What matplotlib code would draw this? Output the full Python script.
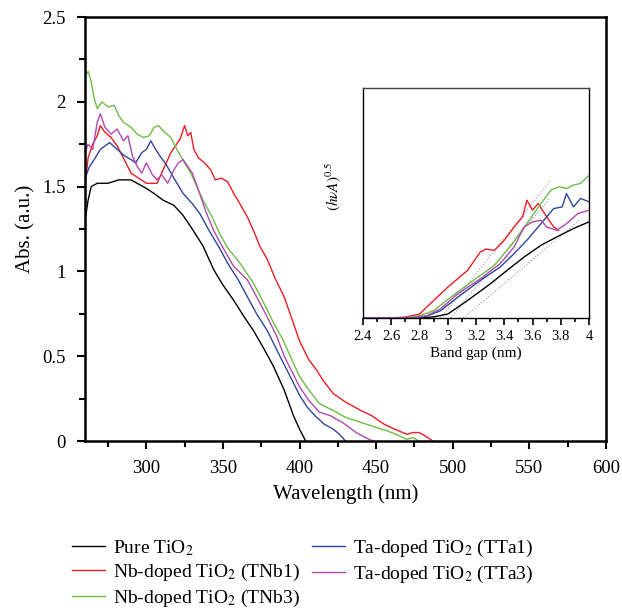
import matplotlib
matplotlib.use('Agg')
import matplotlib.pyplot as plt
from matplotlib.ticker import MultipleLocator, FormatStrFormatter

plt.rcParams['font.family'] = ['Liberation Serif', 'DejaVu Serif']
plt.rcParams['mathtext.fontset'] = 'stix'

# main plot: absorbance vs wavelength (nm)
pure_wl = [260, 262, 264, 268, 275, 282, 290, 296, 300, 305, 311, 318, 324, 330, 337, 344, 350, 357, 364, 370,
           377, 383, 390, 396, 400, 404]
pure_abs = [1.30, 1.42, 1.50, 1.52, 1.52, 1.54, 1.54, 1.51, 1.49, 1.46, 1.42, 1.39, 1.33, 1.25, 1.15, 1.01, 0.92,
            0.83, 0.73, 0.65, 0.54, 0.44, 0.30, 0.15, 0.07, 0.0]

tnb1_wl = [260, 262, 265, 268, 270, 273, 277, 281, 285, 290, 295, 300, 307, 311, 316, 319, 322, 325, 327, 329, 331,
           334, 338, 342, 345, 349, 353, 357, 361, 366, 370, 374, 379, 384, 390, 395, 400, 406, 411, 416, 422, 430,
           440, 447, 455, 462, 470, 474, 478, 482, 487]
tnb1_abs = [1.50, 1.67, 1.75, 1.80, 1.86, 1.82, 1.79, 1.74, 1.67, 1.58, 1.55, 1.52, 1.52, 1.60, 1.70, 1.74, 1.78,
            1.86, 1.80, 1.82, 1.72, 1.67, 1.64, 1.60, 1.54, 1.55, 1.53, 1.46, 1.40, 1.32, 1.24, 1.15, 1.07, 0.96,
            0.85, 0.72, 0.59, 0.48, 0.42, 0.35, 0.28, 0.23, 0.18, 0.15, 0.10, 0.07, 0.04, 0.05, 0.05, 0.03, 0.0]

tnb3_wl = [260, 262, 264, 266, 268, 271, 275, 279, 282, 285, 290, 294, 298, 302, 305, 308, 312, 316, 320, 325, 329,
           333, 337, 343, 348, 353, 361, 370, 378, 384, 389, 395, 400, 407, 413, 422, 430, 440, 450, 457, 463, 470,
           474, 478]
tnb3_abs = [2.15, 2.18, 2.12, 2.02, 1.96, 2.00, 1.97, 1.98, 1.92, 1.88, 1.85, 1.81, 1.79, 1.80, 1.85, 1.86, 1.82,
            1.79, 1.72, 1.64, 1.58, 1.50, 1.42, 1.32, 1.22, 1.14, 1.05, 0.93, 0.79, 0.68, 0.60, 0.48, 0.38, 0.29,
            0.22, 0.18, 0.14, 0.11, 0.08, 0.06, 0.04, 0.01, 0.02, 0.0]

tta1_wl = [260, 263, 266, 270, 276, 281, 286, 290, 293, 297, 300, 303, 306, 309, 313, 318, 324, 330, 335, 341, 347,
           353, 360, 366, 372, 379, 385, 390, 395, 400, 405, 410, 416, 422, 426, 430]
tta1_abs = [1.55, 1.62, 1.66, 1.72, 1.76, 1.72, 1.68, 1.66, 1.64, 1.70, 1.72, 1.77, 1.72, 1.68, 1.63, 1.55, 1.46,
            1.40, 1.34, 1.24, 1.15, 1.05, 0.95, 0.85, 0.75, 0.65, 0.54, 0.45, 0.36, 0.27, 0.20, 0.15, 0.10, 0.07,
            0.04, 0.0]

tta3_wl = [260, 262, 265, 268, 270, 273, 277, 281, 285, 288, 291, 294, 297, 300, 304, 307, 310, 314, 318, 321, 324,
           327, 330, 334, 339, 344, 350, 357, 366, 372, 379, 385, 390, 395, 400, 406, 413, 420, 428, 437, 443, 448]
tta3_abs = [1.70, 1.75, 1.72, 1.88, 1.93, 1.85, 1.81, 1.84, 1.77, 1.80, 1.68, 1.62, 1.58, 1.64, 1.57, 1.54, 1.57,
            1.52, 1.60, 1.64, 1.66, 1.62, 1.58, 1.48, 1.35, 1.24, 1.14, 1.03, 0.95, 0.85, 0.73, 0.62, 0.50, 0.41,
            0.32, 0.24, 0.17, 0.15, 0.11, 0.05, 0.02, 0.0]

# inset: (hvA)^0.5 vs band gap (eV, labelled nm)
pure_ev = [2.4, 2.8, 2.9, 3.0, 3.14, 3.30, 3.42, 3.54, 3.66, 3.77, 3.89, 4.0]
pure_t = [0, 0, 0.005, 0.017, 0.076, 0.148, 0.207, 0.265, 0.316, 0.352, 0.389, 0.418]
tnb1_ev = [2.4, 2.6, 2.7, 2.8, 2.9, 3.0, 3.14, 3.23, 3.27, 3.33, 3.40, 3.47, 3.53, 3.56, 3.60, 3.64, 3.70, 3.75, 3.785]
tnb1_t = [0, 0, 0.004, 0.017, 0.076, 0.134, 0.207, 0.287, 0.30, 0.294, 0.338, 0.396, 0.44, 0.512, 0.469, 0.498,
          0.44, 0.396, 0.381]
tnb3_ev = [2.4, 2.7, 2.8, 2.9, 3.02, 3.18, 3.33, 3.44, 3.56, 3.66, 3.73, 3.79, 3.84, 3.89, 3.94, 4.0]
tnb3_t = [0, 0, 0.01, 0.032, 0.09, 0.163, 0.229, 0.309, 0.41, 0.498, 0.556, 0.571, 0.563, 0.578, 0.585, 0.62]
tta1_ev = [2.4, 2.75, 2.85, 2.95, 3.07, 3.23, 3.37, 3.47, 3.56, 3.66, 3.75, 3.81, 3.84, 3.89, 3.94, 4.0]
tta1_t = [0, 0, 0.008, 0.032, 0.09, 0.163, 0.221, 0.28, 0.338, 0.41, 0.476, 0.483, 0.541, 0.483, 0.52, 0.505]
tta3_ev = [2.4, 2.75, 2.85, 2.95, 3.07, 3.23, 3.37, 3.47, 3.54, 3.60, 3.66, 3.70, 3.77, 3.84, 3.92, 4.0]
tta3_t = [0, 0, 0.01, 0.04, 0.105, 0.17, 0.236, 0.309, 0.396, 0.418, 0.425, 0.396, 0.381, 0.41, 0.454, 0.469]

# dotted tangent lines in the inset (x pairs, y pairs)
fit_x = [[2.95, 3.73], [3.02, 3.72], [3.11, 3.94]]
fit_y = [[0.0, 0.60], [0.0, 0.52], [0.0, 0.43]]

labels = ['Pure TiO$_2$', 'Nb-doped TiO$_2$ (TNb1)', 'Nb-doped TiO$_2$ (TNb3)',
          'Ta-doped TiO$_2$ (TTa1)', 'Ta-doped TiO$_2$ (TTa3)']
colors = ['#000000', '#ee1c25', '#6cbd45', '#2d479c', '#b048b0']

fig = plt.figure(figsize=(6.22, 6.10), dpi=100)
ax = fig.add_axes([0.1367, 0.277, 0.8376, 0.695])

main = [(pure_wl, pure_abs), (tnb1_wl, tnb1_abs), (tnb3_wl, tnb3_abs), (tta1_wl, tta1_abs), (tta3_wl, tta3_abs)]
for (x, y), c, lab in zip(main, colors, labels):
    ax.plot(x, y, color=c, lw=1.0, label=lab)

ax.set_xlim(260, 600)
ax.set_ylim(0, 2.5)
ax.xaxis.set_major_locator(MultipleLocator(50))
ax.xaxis.set_minor_locator(MultipleLocator(25))
ax.yaxis.set_major_locator(MultipleLocator(0.5))
ax.yaxis.set_minor_locator(MultipleLocator(0.25))
ax.yaxis.set_major_formatter(FormatStrFormatter('%g'))
ax.tick_params(which='both', direction='out', width=1.5, labelsize=13.5, pad=8)
ax.tick_params(which='major', length=6)
ax.tick_params(which='minor', length=4)
for s in ax.spines.values():
    s.set_linewidth(1.8)
ax.set_xlabel('Wavelength (nm)', fontsize=15, labelpad=5)
ax.set_ylabel('Abs. (a.u.)', fontsize=15, labelpad=5)

ins = fig.add_axes([0.5836, 0.4787, 0.3634, 0.3770])
inset = [(pure_ev, pure_t), (tnb1_ev, tnb1_t), (tnb3_ev, tnb3_t), (tta1_ev, tta1_t), (tta3_ev, tta3_t)]
for fx, fy in zip(fit_x, fit_y):
    ins.plot(fx, fy, color='#999999', lw=0.8, ls=':')
for (x, y), c in zip(inset, colors):
    ins.plot(x, y, color=c, lw=1.0)
ins.set_xlim(2.4, 4.0)
ins.set_ylim(0, 1)
ins.xaxis.set_major_locator(MultipleLocator(0.2))
ins.xaxis.set_minor_locator(MultipleLocator(0.1))
ins.xaxis.set_major_formatter(FormatStrFormatter('%g'))
ins.set_yticks([])
ins.tick_params(which='both', direction='out', width=1.2, labelsize=10.5)
ins.tick_params(which='major', length=5)
ins.tick_params(which='minor', length=3)
for s in ins.spines.values():
    s.set_linewidth(1.0)
ins.spines['top'].set_color('#444444')
ins.set_xlabel('Band gap (nm)', fontsize=11, labelpad=3)
ins.set_ylabel(r'$(h\nu A)^{0.5}$', fontsize=11)
ins.yaxis.set_label_coords(-0.09, 0.57)

fig.legend(loc='upper left', bbox_to_anchor=(0.116, 0.118), ncol=2, frameon=False, fontsize=14,
           handlelength=1.7, handletextpad=0.42, columnspacing=0.6, labelspacing=0.22,
           borderpad=0, borderaxespad=0)

fig.savefig('out.png', dpi=100)
